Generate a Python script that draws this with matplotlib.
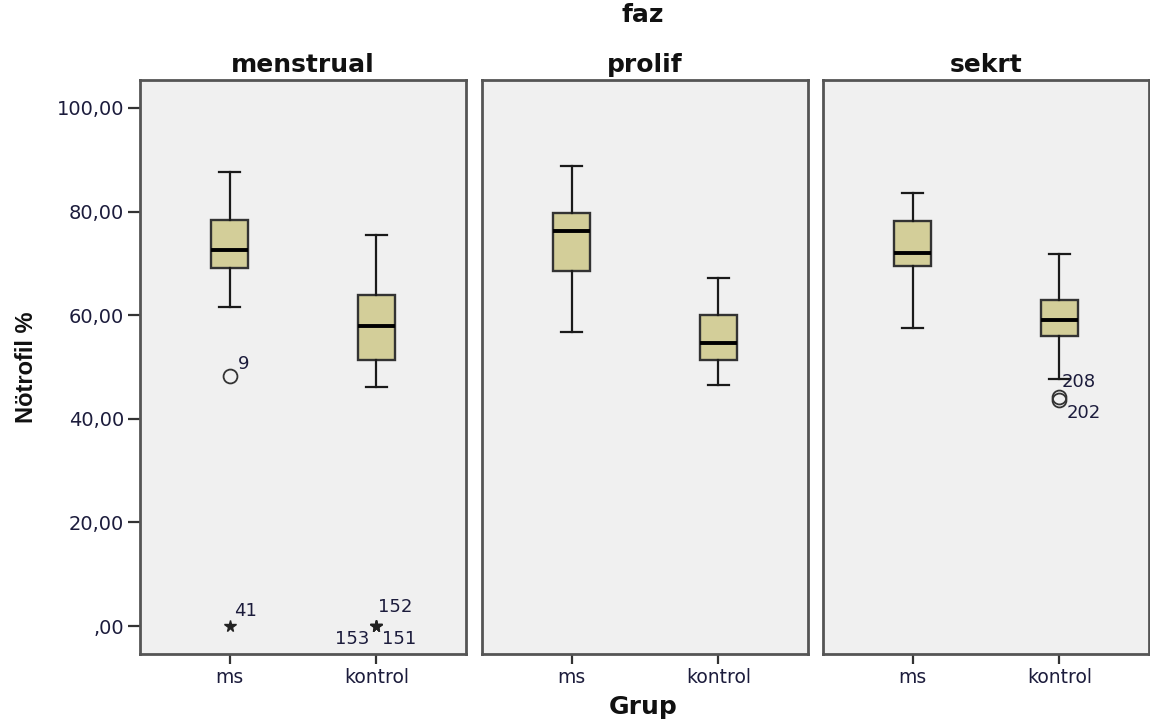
import matplotlib
matplotlib.use("Agg")
import matplotlib.pyplot as plt

# ---- data ----
phases = ["menstrual", "prolif", "sekrt"]
groups = ["ms", "kontrol"]
whislo = [[61.6, 46.2], [56.7, 46.6], [57.5, 47.6]]
q1     = [[69.2, 51.4], [68.6, 51.4], [69.4, 56.0]]
med    = [[72.6, 58.0], [76.3, 54.6], [72.1, 59.1]]
q3     = [[78.4, 63.9], [79.8, 60.0], [78.2, 62.9]]
whishi = [[87.6, 75.4], [88.8, 67.1], [83.5, 71.8]]

# outliers: (phase index, group index, value, label)
mild_outliers = [(0, 0, 48.3, "9"), (2, 1, 44.3, "208"), (2, 1, 43.6, "202")]
extreme_outliers = [(0, 0, 0.0, "41"), (0, 1, 0.0, "152"), (0, 1, 0.0, "153"), (0, 1, 0.0, "151")]

yticks = [0, 20, 40, 60, 80, 100]
ytick_labels = [",00", "20,00", "40,00", "60,00", "80,00", "100,00"]

# label offsets in pixels (style), keyed by label
label_offsets = {"9": (8, 12, "left"), "208": (2, 15, "left"), "202": (7, -13, "left"),
                 "41": (4, 15, "left"), "152": (2, 19, "left"),
                 "153": (-7, -13, "right"), "151": (6, -13, "left")}

W, H = 1150, 727
fig = plt.figure(figsize=(W / 100, H / 100), dpi=100)
fig.patch.set_facecolor("white")

panel_lefts = [140, 482, 823]
pw = 326
top, bottom = 80, 654
tick_col = "#1c1c3c"
box_fill = "#d3ce99"

for pi, ph in enumerate(phases):
    ax = fig.add_axes([panel_lefts[pi] / W, 1 - bottom / H, pw / W, (bottom - top) / H])
    ax.set_facecolor("#f0f0f0")
    stats = []
    for gi, g in enumerate(groups):
        stats.append(dict(med=med[pi][gi], q1=q1[pi][gi], q3=q3[pi][gi],
                          whislo=whislo[pi][gi], whishi=whishi[pi][gi], fliers=[], label=g))
    ax.bxp(stats, positions=[0, 1], widths=0.256, capwidths=0.14, patch_artist=True,
           showfliers=False,
           boxprops=dict(facecolor=box_fill, edgecolor="#333333", linewidth=1.7),
           medianprops=dict(color="black", linewidth=2.8),
           whiskerprops=dict(color="#1a1a1a", linewidth=1.6),
           capprops=dict(color="#1a1a1a", linewidth=1.6))
    for (p, g, v, lab) in mild_outliers:
        if p == pi:
            ax.plot([g], [v], marker="o", ms=10, mfc="none", mec="#333333", mew=1.3,
                    linestyle="none", zorder=5)
            dx, dy, ha = label_offsets[lab]
            ax.annotate(lab, (g, v), xytext=(dx * 0.72, dy * 0.72), textcoords="offset points",
                        ha=ha, va="center", fontsize=13, color=tick_col)
    for (p, g, v, lab) in extreme_outliers:
        if p == pi:
            ax.plot([g], [v], marker="*", ms=8.5, color="#222222", linestyle="none", zorder=5)
            dx, dy, ha = label_offsets[lab]
            ax.annotate(lab, (g, v), xytext=(dx * 0.72, dy * 0.72), textcoords="offset points",
                        ha=ha, va="center", fontsize=13, color=tick_col)
    ax.set_xlim(-0.611, 1.611)
    ax.set_ylim(-5.4, 105.4)
    ax.set_xticks([0, 1])
    ax.set_xticklabels(groups, fontsize=13.5, color=tick_col)
    ax.tick_params(axis="x", direction="out", length=7, width=1.6, color="#333333", pad=3)
    if pi == 0:
        ax.set_yticks(yticks)
        ax.set_yticklabels(ytick_labels, fontsize=14, color=tick_col)
        ax.tick_params(axis="y", direction="out", length=8.5, width=1.6, color="#333333", pad=3)
    else:
        ax.set_yticks([])
    for s in ax.spines.values():
        s.set_color("#555555")
        s.set_linewidth(2.0)
    ax.set_title(ph, fontsize=18, fontweight="bold", pad=6, color="#111111")

fig.text(643 / W, 1 - 15 / H, "faz", ha="center", va="center", fontsize=18,
         fontweight="bold", color="#111111")
fig.text(643 / W, 1 - 707 / H, "Grup", ha="center", va="center", fontsize=18,
         fontweight="bold", color="#111111")
fig.text(27 / W, 1 - 367 / H, "Nötrofil %", ha="center", va="center", rotation=90,
         fontsize=17, fontweight="bold", family="Liberation Sans", color="#111111")

fig.savefig("out.png", dpi=100, facecolor="white")
